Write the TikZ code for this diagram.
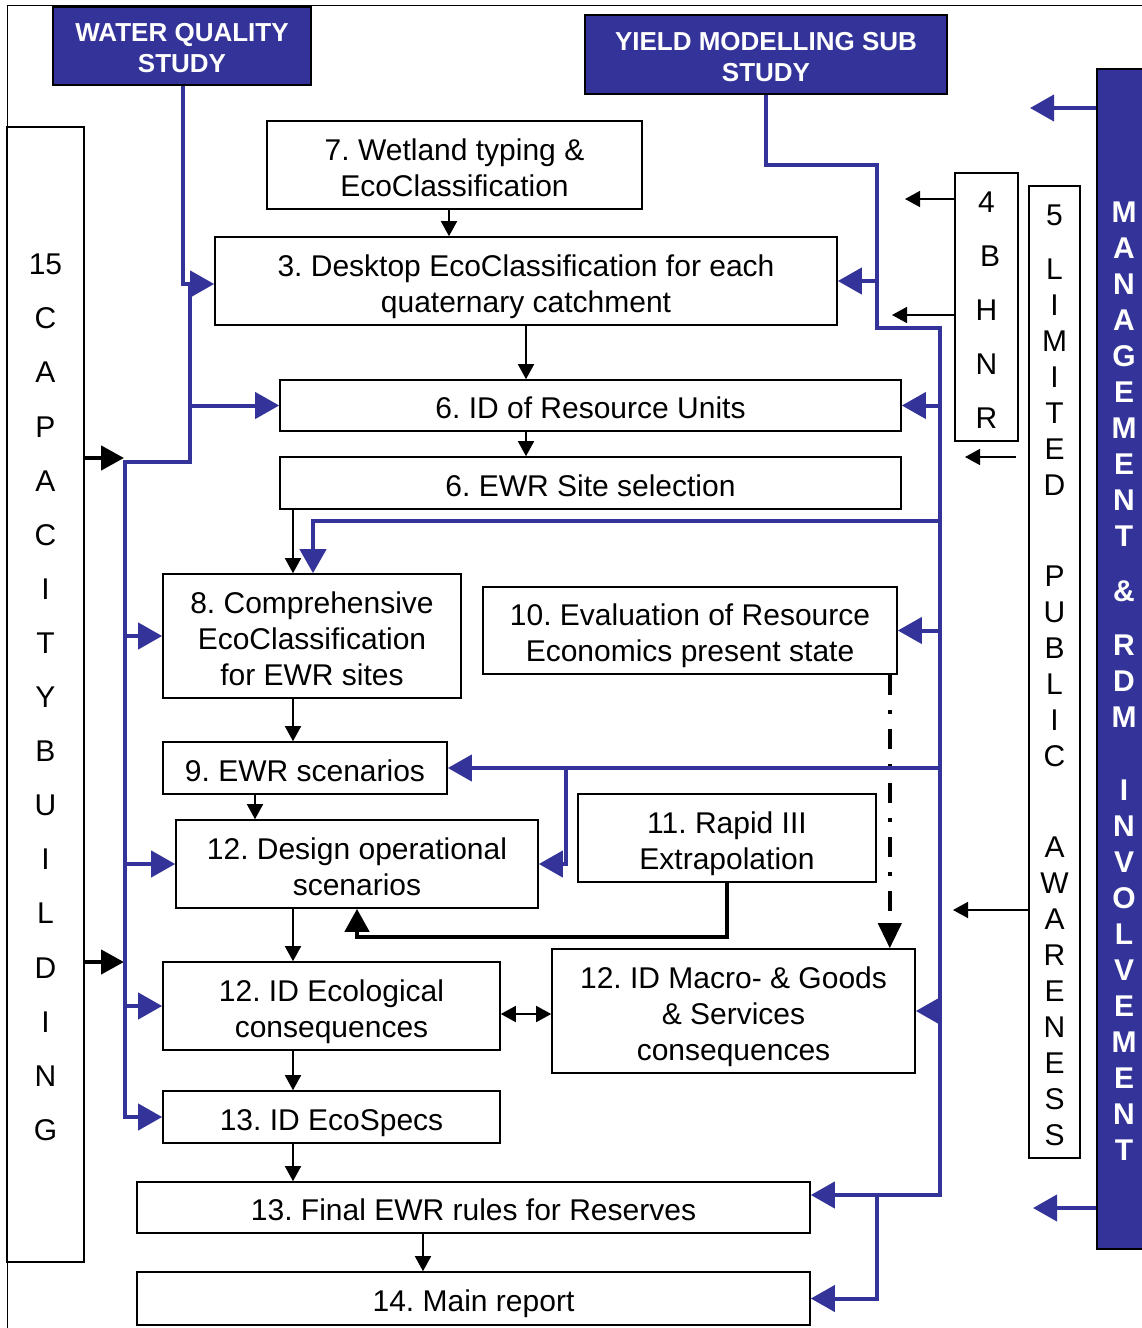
\documentclass[tikz,border=0pt]{standalone}
\usepackage{fontspec}
\setmainfont{Liberation Sans}
\usetikzlibrary{arrows.meta}
\definecolor{wrcblue}{RGB}{51,51,153}

% struts so that text sits like the original line boxes
\newcommand{\inbox}[1]{\rule{0pt}{33pt}#1\rule[-7pt]{0pt}{7pt}}
\newcommand{\inhead}[1]{\rule{0pt}{28pt}#1\rule[-5.4pt]{0pt}{5.4pt}}

\tikzset{
  box/.style={draw, line width=1.6pt, inner sep=0pt, align=center, font=\fontsize{30}{36}\selectfont},
  study/.style={box, fill=wrcblue, text=white, font=\bfseries\fontsize{26}{31}\selectfont},
  flow/.style={line width=1.6pt, -{Triangle[length=15pt,width=16pt]}},
  twoway/.style={line width=1.6pt, {Triangle[length=15pt,width=16pt]}-{Triangle[length=15pt,width=16pt]}},
  heavy/.style={line width=4.5pt, -{Triangle[length=23pt,width=24pt]}},
  dashdot/.style={line width=4pt, dash pattern=on 20pt off 15pt on 4pt off 15pt, -{Triangle[length=25pt,width=23pt]}},
  bline/.style={draw=wrcblue, line width=4pt},
  blu/.style={bline, -{Triangle[length=24pt,width=26pt]}}
}

\begin{document}
\frenchspacing
\lineskiplimit=-\maxdimen
\begin{tikzpicture}[x=1pt,y=-1pt]
  \useasboundingbox (0,0) rectangle (1142,1328);
  % frame
  \draw[line width=1pt] (7,1335) -- (7,5) -- (1150,5);

  % sub studies
  \node[study, minimum width=258pt, minimum height=78pt] (wq) at (182,46) {\inhead{WATER QUALITY\\STUDY}};
  \node[study, minimum width=362pt, minimum height=79pt] (ym) at (766,54.5) {\inhead{YIELD MODELLING SUB\\STUDY}};

  % main steps
  \node[box, minimum width=375pt, minimum height=88pt] (wet) at (454.5,165) {\inbox{7. Wetland typing \&\\EcoClassification}};
  \node[box, minimum width=622pt, minimum height=88pt] (desk) at (526,281) {\inbox{3. Desktop EcoClassification for each\\quaternary catchment}};
  \node[box, minimum width=621pt, minimum height=51pt] (idru) at (590.5,405.5) {\inbox{6. ID of Resource Units}};
  \node[box, minimum width=621pt, minimum height=52pt] (site) at (590.5,483) {\inbox{6. EWR Site selection}};
  \node[box, minimum width=298pt, minimum height=124pt] (comp) at (312,636) {\inbox{8. Comprehensive\\EcoClassification\\for EWR sites}};
  \node[box, minimum width=414pt, minimum height=87pt] (econ) at (690,630.5) {\inbox{10. Evaluation of Resource\\Economics present state}};
  \node[box, minimum width=284pt, minimum height=52pt] (scen) at (305,768) {\inbox{9. EWR scenarios}};
  \node[box, minimum width=362pt, minimum height=88pt] (design) at (357,864) {\inbox{12. Design operational\\scenarios}};
  \node[box, minimum width=298pt, minimum height=88pt] (rapid) at (727,838) {\inbox{11. Rapid III\\Extrapolation}};
  \node[box, minimum width=337pt, minimum height=88pt] (ecocons) at (331.5,1006) {\inbox{12. ID Ecological\\consequences}};
  \node[box, minimum width=363pt, minimum height=124pt] (macro) at (733.5,1011) {\inbox{12. ID Macro- \& Goods\\\& Services\\consequences}};
  \node[box, minimum width=337pt, minimum height=52pt] (specs) at (331.5,1117) {\inbox{13. ID EcoSpecs}};
  \node[box, minimum width=673pt, minimum height=51pt] (rules) at (473.5,1207.5) {\inbox{13. Final EWR rules for Reserves}};
  \node[box, minimum width=673pt, minimum height=53pt] (report) at (473.5,1298.5) {\inbox{14. Main report}};

  % side columns
  \node[box, minimum width=77pt, minimum height=1135pt, font=\fontsize{30}{54.1}\selectfont] (cap) at (45.5,694.5)
    {\inbox{15\\C\\A\\P\\A\\C\\I\\T\\Y\\B\\U\\I\\L\\D\\I\\N\\G}};
  \node[box, minimum width=63pt, minimum height=268pt, font=\fontsize{30}{54}\selectfont] (bhnr) at (986.5,307)
    {\inbox{4\\\hspace*{7pt}B\\H\\N\\R}};
  \node[box, minimum width=51pt, minimum height=972pt] (lpa) at (1054.5,672)
    {\inbox{5\\[18pt]L\\I\\M\\I\\T\\E\\D\\[55pt]P\\U\\B\\L\\I\\C\\[55pt]A\\W\\A\\R\\E\\N\\E\\S\\S}};
  \node[draw, line width=1.6pt, fill=wrcblue, inner sep=0pt, minimum width=53pt, minimum height=1180pt] (mgmt) at (1123.5,659) {};
  \node[align=center, text=white, font=\bfseries\fontsize{30}{36}\selectfont] (mgmttxt) at (1124,681)
    {M\\A\\N\\A\\G\\E\\M\\E\\N\\T\\[19pt]\&\\[18pt]R\\D\\M\\[37pt]I\\N\\V\\O\\L\\V\\E\\M\\E\\N\\T};

  % free ends
  \coordinate (bh1) at (905,199);
  \coordinate (bh2) at (892,315);
  \coordinate (lp1) at (965,457);
  \coordinate (lp2) at (953,910);
  \coordinate (cb1) at (124,458);
  \coordinate (cb2) at (124,962);
  \coordinate (ma1) at (1030,108);
  \coordinate (ma2) at (1033,1208);

  % black flow
  \draw[flow] ([xshift=-5.5pt]wet.south) -- ([xshift=-5.5pt]wet.south |- desk.north);
  \draw[flow] (desk.south) -- (desk.south |- idru.north);
  \draw[flow] (desk.south |- idru.south) -- (desk.south |- site.north);
  \draw[flow] ([xshift=-19pt]comp.north |- site.south) -- ([xshift=-19pt]comp.north);
  \draw[flow] ([xshift=-19pt]comp.south) -- ([xshift=-19pt]comp.south |- scen.north);
  \draw[flow] ([xshift=-50pt]scen.south) -- ([xshift=-50pt]scen.south |- design.north);
  \draw[flow] ([xshift=-38.5pt]ecocons.north |- design.south) -- ([xshift=-38.5pt]ecocons.north);
  \draw[twoway] ([yshift=-8pt]ecocons.east) -- ([yshift=-8pt]ecocons.east -| macro.west);
  \draw[flow] ([xshift=-38.5pt]ecocons.south) -- ([xshift=-38.5pt]specs.north);
  \draw[flow] ([xshift=-38.5pt]specs.south) -- ([xshift=-38.5pt]specs.south |- rules.north);
  \draw[flow] ([xshift=-50.5pt]rules.south) -- ([xshift=-50.5pt]report.north);
  \coordinate (rapidbend) at (727,937);
  \draw[heavy] (rapid.south) -- (rapidbend) -| (design.south);
  \draw[dashdot] ([xshift=-8pt]econ.south east) -- ([xshift=-8pt]econ.south east |- macro.north);

  % side inputs
  \draw[flow] (bhnr.west |- bh1) -- (bh1);
  \draw[flow] (bhnr.west |- bh2) -- (bh2);
  \draw[flow, shorten <=12pt] (lpa.west |- lp1) -- (lp1);
  \draw[flow] (lpa.west |- lp2) -- (lp2);
  \draw[heavy] (cap.east |- cb1) -- (cb1);
  \draw[heavy] (cap.east |- cb2) -- (cb2);
  \draw[blu] (mgmt.west |- ma1) -- (ma1);
  \draw[blu] (mgmt.west |- ma2) -- (ma2);

  % water quality links
  \coordinate (wqa) at (183,284);
  \coordinate (wqb) at (190,284);
  \coordinate (wqd) at (125,462);
  \draw[blu] (wq.south -| wqa) -- (wqa) -- (wqb) |- (wqd) |- (specs.west);
  \draw[blu] (wqb) -- (desk.west |- wqb);
  \draw[blu] (wqb |- idru.west) -- (idru.west);
  \draw[blu] (wqd |- comp.west) -- (comp.west);
  \draw[blu] (wqd |- design.west) -- (design.west);
  \draw[blu] (wqd |- ecocons.west) -- (ecocons.west);

  % yield modelling links
  \coordinate (yb) at (877,165);
  \coordinate (yc) at (877,328);
  \coordinate (yd) at (940,328);
  \coordinate (ye) at (940,1195);
  \coordinate (yf) at (877,1195);
  \coordinate (ysite) at (940,521);
  \coordinate (ysc) at (566,768);
  \draw[blu] (ym.south) |- (yb) -- (yc) -| (ye) -- (rules.east |- ye);
  \draw[blu] (yb |- desk.east) -- (desk.east);
  \draw[blu] (yd |- idru.east) -- (idru.east);
  \draw[blu] (ysite) -| ([xshift=1pt]comp.north);
  \draw[blu] (yd |- econ.east) -- (econ.east);
  \draw[blu] (yd |- scen.east) -- (scen.east);
  \draw[blu] (ysc) |- (design.east);
  \draw[blu] (yd |- macro.east) -- (macro.east);
  \draw[blu] (yf) |- (report.east);
\end{tikzpicture}
\end{document}
